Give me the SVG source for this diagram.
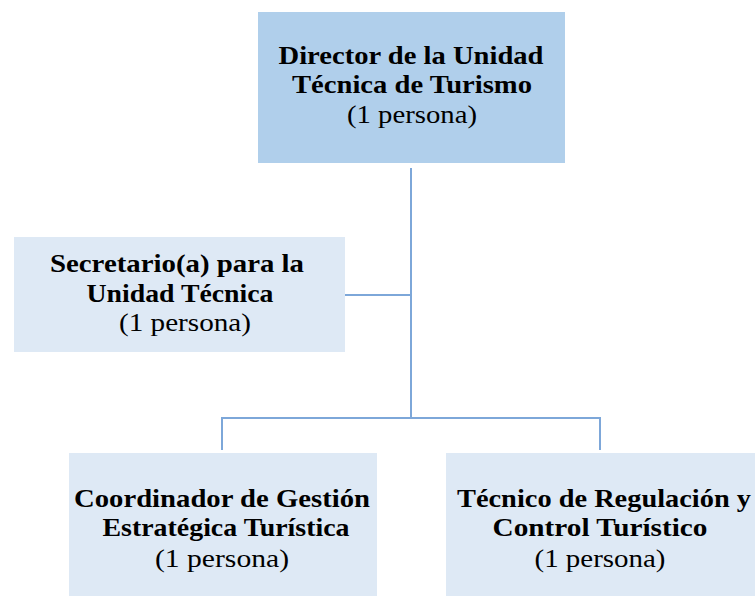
<svg xmlns="http://www.w3.org/2000/svg" width="755" height="596" viewBox="0 0 755 596">
<style>
text{font-family:'Liberation Serif','Times New Roman',serif;font-size:25px;fill:#000;text-anchor:middle}
.b{font-weight:bold}
.c{stroke:#7DA7D9;stroke-width:2;fill:none}
</style>
<rect width="755" height="596" fill="#fff"/>
<g id="connectors">
<path class="c" d="M411 168V418"/>
<path class="c" d="M345 295H411"/>
<path class="c" d="M222 450V418H600V450"/>
</g>
<g id="director">
<rect x="258" y="12" width="307" height="151" fill="#B0CFEB"/>
<text class="b" x="411" y="64" textLength="265" lengthAdjust="spacingAndGlyphs">Director de la Unidad</text>
<text class="b" x="412" y="93" textLength="240" lengthAdjust="spacingAndGlyphs">Técnica de Turismo</text>
<text x="412" y="123" textLength="130" lengthAdjust="spacingAndGlyphs">(1 persona)</text>
</g>
<g id="secretario">
<rect x="14" y="237" width="331" height="115" fill="#DEE9F5"/>
<text class="b" x="177" y="272" textLength="254" lengthAdjust="spacingAndGlyphs">Secretario(a) para la</text>
<text class="b" x="180" y="302" textLength="187" lengthAdjust="spacingAndGlyphs">Unidad Técnica</text>
<text x="185" y="331" textLength="132" lengthAdjust="spacingAndGlyphs">(1 persona)</text>
</g>
<g id="coordinador">
<rect x="69" y="453" width="308" height="143" fill="#DEE9F5"/>
<text class="b" x="222" y="507" textLength="296" lengthAdjust="spacingAndGlyphs">Coordinador de Gestión</text>
<text class="b" x="226" y="536" textLength="247" lengthAdjust="spacingAndGlyphs">Estratégica Turística</text>
<text x="222" y="567" textLength="134" lengthAdjust="spacingAndGlyphs">(1 persona)</text>
</g>
<g id="tecnico">
<rect x="446" y="453" width="309" height="143" fill="#DEE9F5"/>
<text class="b" x="604" y="507" textLength="294" lengthAdjust="spacingAndGlyphs">Técnico de Regulación y</text>
<text class="b" x="600" y="536" textLength="215" lengthAdjust="spacingAndGlyphs">Control Turístico</text>
<text x="600" y="567" textLength="131" lengthAdjust="spacingAndGlyphs">(1 persona)</text>
</g>
</svg>
